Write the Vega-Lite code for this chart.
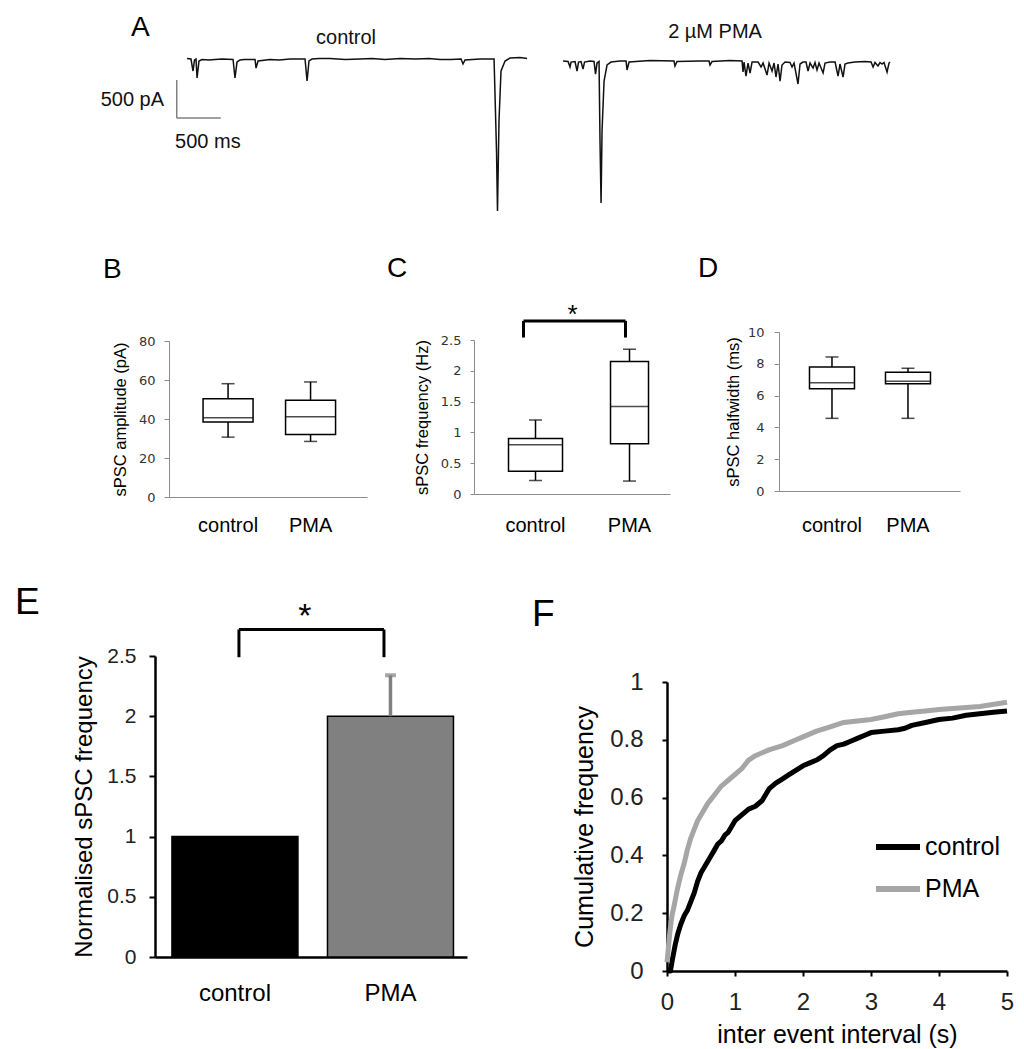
{
  "$schema": "https://vega.github.io/schema/vega-lite/v6.json",
  "padding": {"left": 15, "top": 13, "right": 5, "bottom": 5},
  "background": "white",
  "config": {
    "view": {"stroke": null},
    "font": "Liberation Sans",
    "axis": {"grid": false, "labelFont": "Liberation Sans", "titleFont": "Liberation Sans", "titleFontWeight": "normal", "labelFlush": false, "labelOverlap": false},
    "title": {"font": "Liberation Sans", "fontWeight": "normal", "anchor": "start", "frame": "group", "color": "#000", "baseline": "alphabetic"}
  },
  "datasets": {
    "trace": [
      {"trace": "control", "time": 0, "current": -7},
      {"trace": "control", "time": 45, "current": -13},
      {"trace": "control", "time": 68, "current": -171},
      {"trace": "control", "time": 85, "current": -26},
      {"trace": "control", "time": 102, "current": -13},
      {"trace": "control", "time": 114, "current": -263},
      {"trace": "control", "time": 136, "current": -39},
      {"trace": "control", "time": 170, "current": -20},
      {"trace": "control", "time": 250, "current": -26},
      {"trace": "control", "time": 318, "current": -20},
      {"trace": "control", "time": 400, "current": -13},
      {"trace": "control", "time": 523, "current": -20},
      {"trace": "control", "time": 545, "current": -263},
      {"trace": "control", "time": 568, "current": -53},
      {"trace": "control", "time": 602, "current": -26},
      {"trace": "control", "time": 650, "current": -20},
      {"trace": "control", "time": 773, "current": -20},
      {"trace": "control", "time": 784, "current": -132},
      {"trace": "control", "time": 807, "current": -39},
      {"trace": "control", "time": 943, "current": -20},
      {"trace": "control", "time": 1050, "current": -26},
      {"trace": "control", "time": 1170, "current": -13},
      {"trace": "control", "time": 1341, "current": -13},
      {"trace": "control", "time": 1364, "current": -303},
      {"trace": "control", "time": 1386, "current": -39},
      {"trace": "control", "time": 1420, "current": -13},
      {"trace": "control", "time": 1500, "current": -7},
      {"trace": "control", "time": 1625, "current": -7},
      {"trace": "control", "time": 1800, "current": -20},
      {"trace": "control", "time": 1966, "current": -13},
      {"trace": "control", "time": 2100, "current": -7},
      {"trace": "control", "time": 2250, "current": -20},
      {"trace": "control", "time": 2421, "current": -7},
      {"trace": "control", "time": 2600, "current": -13},
      {"trace": "control", "time": 2750, "current": -7},
      {"trace": "control", "time": 2875, "current": -20},
      {"trace": "control", "time": 3000, "current": -20},
      {"trace": "control", "time": 3114, "current": -13},
      {"trace": "control", "time": 3136, "current": -79},
      {"trace": "control", "time": 3159, "current": -26},
      {"trace": "control", "time": 3330, "current": -13},
      {"trace": "control", "time": 3489, "current": -13},
      {"trace": "control", "time": 3517, "current": -1224},
      {"trace": "control", "time": 3528, "current": -2013},
      {"trace": "control", "time": 3545, "current": -829},
      {"trace": "control", "time": 3568, "current": -171},
      {"trace": "control", "time": 3614, "current": -39},
      {"trace": "control", "time": 3670, "current": 0},
      {"trace": "control", "time": 3784, "current": 7},
      {"trace": "control", "time": 3864, "current": -7},
      {"trace": "PMA", "time": 4273, "current": -39},
      {"trace": "PMA", "time": 4330, "current": -46},
      {"trace": "PMA", "time": 4352, "current": -118},
      {"trace": "PMA", "time": 4364, "current": -53},
      {"trace": "PMA", "time": 4409, "current": -46},
      {"trace": "PMA", "time": 4432, "current": -171},
      {"trace": "PMA", "time": 4449, "current": -53},
      {"trace": "PMA", "time": 4477, "current": -46},
      {"trace": "PMA", "time": 4500, "current": -145},
      {"trace": "PMA", "time": 4517, "current": -53},
      {"trace": "PMA", "time": 4580, "current": -39},
      {"trace": "PMA", "time": 4625, "current": -46},
      {"trace": "PMA", "time": 4642, "current": -211},
      {"trace": "PMA", "time": 4659, "current": -66},
      {"trace": "PMA", "time": 4682, "current": -46},
      {"trace": "PMA", "time": 4693, "current": -1092},
      {"trace": "PMA", "time": 4705, "current": -1908},
      {"trace": "PMA", "time": 4716, "current": -961},
      {"trace": "PMA", "time": 4739, "current": -303},
      {"trace": "PMA", "time": 4773, "current": -92},
      {"trace": "PMA", "time": 4818, "current": -53},
      {"trace": "PMA", "time": 4920, "current": -39},
      {"trace": "PMA", "time": 4989, "current": -39},
      {"trace": "PMA", "time": 5000, "current": -158},
      {"trace": "PMA", "time": 5023, "current": -53},
      {"trace": "PMA", "time": 5261, "current": -33},
      {"trace": "PMA", "time": 5534, "current": -39},
      {"trace": "PMA", "time": 5545, "current": -105},
      {"trace": "PMA", "time": 5568, "current": -46},
      {"trace": "PMA", "time": 5830, "current": -39},
      {"trace": "PMA", "time": 5932, "current": -39},
      {"trace": "PMA", "time": 5943, "current": -92},
      {"trace": "PMA", "time": 5966, "current": -46},
      {"trace": "PMA", "time": 6171, "current": -33},
      {"trace": "PMA", "time": 6307, "current": -39},
      {"trace": "PMA", "time": 6318, "current": -184},
      {"trace": "PMA", "time": 6330, "current": -53},
      {"trace": "PMA", "time": 6352, "current": -237},
      {"trace": "PMA", "time": 6375, "current": -66},
      {"trace": "PMA", "time": 6398, "current": -197},
      {"trace": "PMA", "time": 6421, "current": -53},
      {"trace": "PMA", "time": 6489, "current": -53},
      {"trace": "PMA", "time": 6523, "current": -118},
      {"trace": "PMA", "time": 6546, "current": -66},
      {"trace": "PMA", "time": 6591, "current": -224},
      {"trace": "PMA", "time": 6614, "current": -66},
      {"trace": "PMA", "time": 6648, "current": -171},
      {"trace": "PMA", "time": 6671, "current": -66},
      {"trace": "PMA", "time": 6693, "current": -250},
      {"trace": "PMA", "time": 6716, "current": -79},
      {"trace": "PMA", "time": 6739, "current": -303},
      {"trace": "PMA", "time": 6761, "current": -92},
      {"trace": "PMA", "time": 6796, "current": -53},
      {"trace": "PMA", "time": 6852, "current": -59},
      {"trace": "PMA", "time": 6875, "current": -118},
      {"trace": "PMA", "time": 6898, "current": -66},
      {"trace": "PMA", "time": 6943, "current": -342},
      {"trace": "PMA", "time": 6966, "current": -79},
      {"trace": "PMA", "time": 7000, "current": -53},
      {"trace": "PMA", "time": 7034, "current": -53},
      {"trace": "PMA", "time": 7057, "current": -171},
      {"trace": "PMA", "time": 7080, "current": -66},
      {"trace": "PMA", "time": 7114, "current": -132},
      {"trace": "PMA", "time": 7136, "current": -59},
      {"trace": "PMA", "time": 7159, "current": -158},
      {"trace": "PMA", "time": 7182, "current": -66},
      {"trace": "PMA", "time": 7228, "current": -197},
      {"trace": "PMA", "time": 7250, "current": -66},
      {"trace": "PMA", "time": 7307, "current": -53},
      {"trace": "PMA", "time": 7364, "current": -53},
      {"trace": "PMA", "time": 7398, "current": -237},
      {"trace": "PMA", "time": 7420, "current": -79},
      {"trace": "PMA", "time": 7455, "current": -250},
      {"trace": "PMA", "time": 7477, "current": -79},
      {"trace": "PMA", "time": 7511, "current": -66},
      {"trace": "PMA", "time": 7591, "current": -53},
      {"trace": "PMA", "time": 7705, "current": -46},
      {"trace": "PMA", "time": 7773, "current": -53},
      {"trace": "PMA", "time": 7796, "current": -118},
      {"trace": "PMA", "time": 7818, "current": -59},
      {"trace": "PMA", "time": 7852, "current": -105},
      {"trace": "PMA", "time": 7875, "current": -59},
      {"trace": "PMA", "time": 7898, "current": -79},
      {"trace": "PMA", "time": 7920, "current": -59},
      {"trace": "PMA", "time": 7955, "current": -184},
      {"trace": "PMA", "time": 7977, "current": -66},
      {"trace": "PMA", "time": 7989, "current": -53}
    ],
    "boxB": [
      {"group": "control", "lo": 30.7, "q1": 38.5, "med": 40.6, "q3": 50.4, "hi": 58.1},
      {"group": "PMA", "lo": 28.5, "q1": 32.1, "med": 41.2, "q3": 49.6, "hi": 59}
    ],
    "boxC": [
      {"group": "control", "lo": 0.22, "q1": 0.37, "med": 0.8, "q3": 0.9, "hi": 1.2},
      {"group": "PMA", "lo": 0.21, "q1": 0.815, "med": 1.42, "q3": 2.15, "hi": 2.35}
    ],
    "sigC": [
      {"left": "control", "right": "PMA", "top": 2.81, "bottom": 2.54, "star": 2.78, "label": "*"}
    ],
    "boxD": [
      {"group": "control", "lo": 4.57, "q1": 6.43, "med": 6.81, "q3": 7.8, "hi": 8.43},
      {"group": "PMA", "lo": 4.57, "q1": 6.75, "med": 6.9, "q3": 7.47, "hi": 7.72}
    ],
    "eBar": [
      {"group": "control", "mean": 1.0, "upper": null},
      {"group": "PMA", "mean": 2.0, "upper": 2.34}
    ],
    "sigE": [
      {"left": "control", "right": "PMA", "top": 2.72, "bottom": 2.49, "star": 2.74, "label": "*"}
    ],
    "cdf": [
      {"condition": "control", "interval": 0, "cumfreq": 0},
      {"condition": "control", "interval": 0.05, "cumfreq": 0.0},
      {"condition": "control", "interval": 0.08, "cumfreq": 0.04},
      {"condition": "control", "interval": 0.12, "cumfreq": 0.09},
      {"condition": "control", "interval": 0.16, "cumfreq": 0.13},
      {"condition": "control", "interval": 0.2, "cumfreq": 0.16},
      {"condition": "control", "interval": 0.25, "cumfreq": 0.19},
      {"condition": "control", "interval": 0.3, "cumfreq": 0.21},
      {"condition": "control", "interval": 0.35, "cumfreq": 0.24},
      {"condition": "control", "interval": 0.4, "cumfreq": 0.27},
      {"condition": "control", "interval": 0.45, "cumfreq": 0.31},
      {"condition": "control", "interval": 0.5, "cumfreq": 0.34},
      {"condition": "control", "interval": 0.55, "cumfreq": 0.36},
      {"condition": "control", "interval": 0.6, "cumfreq": 0.38},
      {"condition": "control", "interval": 0.65, "cumfreq": 0.4},
      {"condition": "control", "interval": 0.7, "cumfreq": 0.42},
      {"condition": "control", "interval": 0.75, "cumfreq": 0.44},
      {"condition": "control", "interval": 0.8, "cumfreq": 0.45},
      {"condition": "control", "interval": 0.85, "cumfreq": 0.47},
      {"condition": "control", "interval": 0.9, "cumfreq": 0.48},
      {"condition": "control", "interval": 0.95, "cumfreq": 0.5},
      {"condition": "control", "interval": 1.0, "cumfreq": 0.52},
      {"condition": "control", "interval": 1.1, "cumfreq": 0.54},
      {"condition": "control", "interval": 1.2, "cumfreq": 0.56},
      {"condition": "control", "interval": 1.3, "cumfreq": 0.57},
      {"condition": "control", "interval": 1.4, "cumfreq": 0.59},
      {"condition": "control", "interval": 1.5, "cumfreq": 0.63},
      {"condition": "control", "interval": 1.6, "cumfreq": 0.65},
      {"condition": "control", "interval": 1.7, "cumfreq": 0.665},
      {"condition": "control", "interval": 1.8, "cumfreq": 0.68},
      {"condition": "control", "interval": 1.9, "cumfreq": 0.695},
      {"condition": "control", "interval": 2.0, "cumfreq": 0.71},
      {"condition": "control", "interval": 2.1, "cumfreq": 0.72},
      {"condition": "control", "interval": 2.2, "cumfreq": 0.73},
      {"condition": "control", "interval": 2.3, "cumfreq": 0.745},
      {"condition": "control", "interval": 2.4, "cumfreq": 0.765},
      {"condition": "control", "interval": 2.5, "cumfreq": 0.78},
      {"condition": "control", "interval": 2.6, "cumfreq": 0.785},
      {"condition": "control", "interval": 2.7, "cumfreq": 0.795},
      {"condition": "control", "interval": 2.8, "cumfreq": 0.805},
      {"condition": "control", "interval": 2.9, "cumfreq": 0.815},
      {"condition": "control", "interval": 3.0, "cumfreq": 0.825},
      {"condition": "control", "interval": 3.2, "cumfreq": 0.83},
      {"condition": "control", "interval": 3.4, "cumfreq": 0.835},
      {"condition": "control", "interval": 3.5, "cumfreq": 0.84},
      {"condition": "control", "interval": 3.6, "cumfreq": 0.85},
      {"condition": "control", "interval": 3.8, "cumfreq": 0.86},
      {"condition": "control", "interval": 4.0, "cumfreq": 0.87},
      {"condition": "control", "interval": 4.2, "cumfreq": 0.875},
      {"condition": "control", "interval": 4.4, "cumfreq": 0.885},
      {"condition": "control", "interval": 4.6, "cumfreq": 0.89},
      {"condition": "control", "interval": 4.8, "cumfreq": 0.895},
      {"condition": "control", "interval": 5.0, "cumfreq": 0.9},
      {"condition": "PMA", "interval": 0, "cumfreq": 0.03},
      {"condition": "PMA", "interval": 0.02, "cumfreq": 0.08},
      {"condition": "PMA", "interval": 0.04, "cumfreq": 0.13},
      {"condition": "PMA", "interval": 0.06, "cumfreq": 0.17},
      {"condition": "PMA", "interval": 0.08, "cumfreq": 0.2},
      {"condition": "PMA", "interval": 0.1, "cumfreq": 0.22},
      {"condition": "PMA", "interval": 0.15, "cumfreq": 0.28},
      {"condition": "PMA", "interval": 0.2, "cumfreq": 0.33},
      {"condition": "PMA", "interval": 0.25, "cumfreq": 0.37},
      {"condition": "PMA", "interval": 0.3, "cumfreq": 0.42},
      {"condition": "PMA", "interval": 0.35, "cumfreq": 0.46},
      {"condition": "PMA", "interval": 0.4, "cumfreq": 0.49},
      {"condition": "PMA", "interval": 0.45, "cumfreq": 0.52},
      {"condition": "PMA", "interval": 0.5, "cumfreq": 0.54},
      {"condition": "PMA", "interval": 0.6, "cumfreq": 0.58},
      {"condition": "PMA", "interval": 0.7, "cumfreq": 0.61},
      {"condition": "PMA", "interval": 0.8, "cumfreq": 0.64},
      {"condition": "PMA", "interval": 0.9, "cumfreq": 0.66},
      {"condition": "PMA", "interval": 1.0, "cumfreq": 0.68},
      {"condition": "PMA", "interval": 1.1, "cumfreq": 0.7},
      {"condition": "PMA", "interval": 1.2, "cumfreq": 0.73},
      {"condition": "PMA", "interval": 1.3, "cumfreq": 0.745},
      {"condition": "PMA", "interval": 1.4, "cumfreq": 0.755},
      {"condition": "PMA", "interval": 1.5, "cumfreq": 0.765},
      {"condition": "PMA", "interval": 1.7, "cumfreq": 0.78},
      {"condition": "PMA", "interval": 1.9, "cumfreq": 0.8},
      {"condition": "PMA", "interval": 2.0, "cumfreq": 0.81},
      {"condition": "PMA", "interval": 2.2, "cumfreq": 0.83},
      {"condition": "PMA", "interval": 2.4, "cumfreq": 0.845},
      {"condition": "PMA", "interval": 2.6, "cumfreq": 0.86},
      {"condition": "PMA", "interval": 2.8, "cumfreq": 0.865},
      {"condition": "PMA", "interval": 3.0, "cumfreq": 0.87},
      {"condition": "PMA", "interval": 3.2, "cumfreq": 0.88},
      {"condition": "PMA", "interval": 3.4, "cumfreq": 0.89},
      {"condition": "PMA", "interval": 3.6, "cumfreq": 0.895},
      {"condition": "PMA", "interval": 3.8, "cumfreq": 0.9},
      {"condition": "PMA", "interval": 4.0, "cumfreq": 0.905},
      {"condition": "PMA", "interval": 4.3, "cumfreq": 0.91},
      {"condition": "PMA", "interval": 4.6, "cumfreq": 0.915},
      {"condition": "PMA", "interval": 5.0, "cumfreq": 0.93}
    ]
  },
  "bounds": "flush",
  "spacing": 116,
  "vconcat": [
    {
      "width": 745,
      "height": 175,
      "title": {"text": "A", "fontSize": 28, "dx": -24, "offset": -19.5},
      "layer": [
        {
          "data": {"name": "trace"},
          "mark": {"type": "line", "color": "#111", "strokeWidth": 1.5},
          "encoding": {
            "x": {"field": "time", "type": "quantitative", "scale": {"domain": [-364, 8102], "nice": false, "zero": false}, "axis": null},
            "y": {"field": "current", "type": "quantitative", "scale": {"domain": [-2079, 224], "nice": false, "zero": false}, "axis": null},
            "detail": {"field": "trace", "type": "nominal"}
          }
        },
        {
          "data": {"values": [{}]},
          "mark": {"type": "rule", "color": "#808080", "strokeWidth": 1.5},
          "encoding": {"x": {"datum": -117, "type": "quantitative"}, "y": {"datum": -290, "type": "quantitative"}, "y2": {"datum": -790}}
        },
        {
          "data": {"values": [{}]},
          "mark": {"type": "rule", "color": "#808080", "strokeWidth": 1.5},
          "encoding": {"x": {"datum": -117, "type": "quantitative"}, "x2": {"datum": 383}, "y": {"datum": -790, "type": "quantitative"}}
        },
        {
          "data": {"values": [{}]},
          "mark": {"type": "text", "fontSize": 20, "align": "center", "baseline": "middle", "color": "#111"},
          "encoding": {"x": {"datum": 1807, "type": "quantitative"}, "y": {"datum": 263, "type": "quantitative"}, "text": {"value": "control"}}
        },
        {
          "data": {"values": [{}]},
          "mark": {"type": "text", "fontSize": 20, "align": "center", "baseline": "middle", "color": "#111"},
          "encoding": {"x": {"datum": 6000, "type": "quantitative"}, "y": {"datum": 342, "type": "quantitative"}, "text": {"value": "2 µM PMA"}}
        },
        {
          "data": {"values": [{}]},
          "mark": {"type": "text", "fontSize": 20, "align": "right", "baseline": "middle", "color": "#111"},
          "encoding": {"x": {"datum": -261, "type": "quantitative"}, "y": {"datum": -546, "type": "quantitative"}, "text": {"value": "500 pA"}}
        },
        {
          "data": {"values": [{}]},
          "mark": {"type": "text", "fontSize": 20, "align": "left", "baseline": "middle", "color": "#111"},
          "encoding": {"x": {"datum": -136, "type": "quantitative"}, "y": {"datum": -1105, "type": "quantitative"}, "text": {"value": "500 ms"}}
        }
      ]
    },
    {
      "bounds": "flush",
      "spacing": 324,
      "vconcat": [
        {
          "bounds": "flush",
          "spacing": 13,
          "hconcat": [
            {"data": {"values": []}, "mark": "point", "width": 1, "height": 1},
            {
              "bounds": "flush",
              "spacing": 305,
              "hconcat": [
                {
                  "bounds": "flush",
                  "spacing": 8,
                  "vconcat": [
                    {"data": {"values": []}, "mark": "point", "width": 1, "height": 1},
                    {
                      "width": 198,
                      "height": 156,
                      "title": {"text": "B", "fontSize": 28, "dx": -66, "offset": 51},
                      "data": {"name": "boxB"},
                      "encoding": {
                        "x": {"field": "group", "type": "nominal", "sort": null, "scale": {"domain": ["control", "PMA"], "paddingInner": 0.394, "paddingOuter": 0.397, "align": 0.52}, "axis": {"title": null, "labelAngle": 0, "ticks": false, "domainColor": "#8c8c8c", "labelFontSize": 20, "labelColor": "#000", "labelPadding": 18}}
                      },
                      "layer": [
                        {"mark": {"type": "rule", "color": "#000", "strokeWidth": 1.5}, "encoding": {"y": {"field": "lo", "type": "quantitative", "scale": {"domain": [0, 80], "nice": false}, "axis": {"title": "sPSC amplitude (pA)", "values": [0, 20, 40, 60, 80], "tickCount": 20, "format": "~g", "labelOverlap": false, "labelBound": false, "domainColor": "#8c8c8c", "tickColor": "#8c8c8c", "tickSize": 5, "labelFont": "DejaVu Sans", "labelFontSize": 13, "labelColor": "#333", "labelPadding": 9, "titleFontSize": 16.5, "titleColor": "#000", "titlePadding": 10}}, "y2": {"field": "hi"}}},
                        {"mark": {"type": "bar", "fill": "#fff", "stroke": "#000", "strokeWidth": 1.5, "width": 50}, "encoding": {"y": {"field": "q1", "type": "quantitative"}, "y2": {"field": "q3"}}},
                        {"mark": {"type": "tick", "color": "#000", "thickness": 1.5, "size": 50}, "encoding": {"y": {"field": "med", "type": "quantitative"}}},
                        {"mark": {"type": "tick", "color": "#000", "thickness": 1.5, "size": 13}, "encoding": {"y": {"field": "lo", "type": "quantitative"}}},
                        {"mark": {"type": "tick", "color": "#000", "thickness": 1.5, "size": 13}, "encoding": {"y": {"field": "hi", "type": "quantitative"}}}
                      ]
                    }
                  ]
                },
                {
                  "bounds": "flush",
                  "spacing": 7,
                  "vconcat": [
                    {"data": {"values": []}, "mark": "point", "width": 1, "height": 1},
                    {
                      "width": 196,
                      "height": 154,
                      "title": {"text": "C", "fontSize": 28, "dx": -87, "offset": 18.4},
                      "encoding": {
                        "x": {"field": "group", "type": "nominal", "sort": null, "scale": {"domain": ["control", "PMA"], "paddingInner": 0.45, "paddingOuter": 0.2675, "align": 0.709}, "axis": {"title": null, "labelAngle": 0, "ticks": false, "domainColor": "#8c8c8c", "labelFontSize": 20, "labelColor": "#000", "labelPadding": 21}}
                      },
                      "layer": [
                        {"data": {"name": "boxC"}, "mark": {"type": "rule", "color": "#000", "strokeWidth": 1.5}, "encoding": {"y": {"field": "lo", "type": "quantitative", "scale": {"domain": [0, 2.5], "nice": false}, "axis": {"title": "sPSC frequency (Hz)", "values": [0, 0.5, 1, 1.5, 2, 2.5], "tickCount": 20, "format": "~g", "labelOverlap": false, "labelBound": false, "domainColor": "#8c8c8c", "tickColor": "#8c8c8c", "tickSize": 4, "labelFont": "DejaVu Sans", "labelFontSize": 13, "labelColor": "#333", "labelPadding": 9, "titleFontSize": 16.5, "titleColor": "#000", "titlePadding": 10}}, "y2": {"field": "hi"}}},
                        {"data": {"name": "boxC"}, "transform": [{"filter": "datum.group == 'control'"}], "mark": {"type": "bar", "fill": "#fff", "stroke": "#000", "strokeWidth": 1.5, "width": 54}, "encoding": {"y": {"field": "q1", "type": "quantitative"}, "y2": {"field": "q3"}}},
                        {"data": {"name": "boxC"}, "transform": [{"filter": "datum.group == 'PMA'"}], "mark": {"type": "bar", "fill": "#fff", "stroke": "#000", "strokeWidth": 1.5, "width": 38}, "encoding": {"y": {"field": "q1", "type": "quantitative"}, "y2": {"field": "q3"}}},
                        {"data": {"name": "boxC"}, "transform": [{"filter": "datum.group == 'control'"}], "mark": {"type": "tick", "color": "#000", "thickness": 1.5, "size": 54}, "encoding": {"y": {"field": "med", "type": "quantitative"}}},
                        {"data": {"name": "boxC"}, "transform": [{"filter": "datum.group == 'PMA'"}], "mark": {"type": "tick", "color": "#000", "thickness": 1.5, "size": 38}, "encoding": {"y": {"field": "med", "type": "quantitative"}}},
                        {"data": {"name": "boxC"}, "mark": {"type": "tick", "color": "#000", "thickness": 1.5, "size": 13}, "encoding": {"y": {"field": "lo", "type": "quantitative"}}},
                        {"data": {"name": "boxC"}, "mark": {"type": "tick", "color": "#000", "thickness": 1.5, "size": 13}, "encoding": {"y": {"field": "hi", "type": "quantitative"}}},
                        {"data": {"name": "sigC"}, "mark": {"type": "rule", "color": "#000", "strokeWidth": 3, "xOffset": -12, "x2Offset": -4}, "encoding": {"x": {"field": "left", "type": "nominal", "title": null}, "x2": {"field": "right"}, "y": {"field": "top", "type": "quantitative"}}},
                        {"data": {"name": "sigC"}, "mark": {"type": "rule", "color": "#000", "strokeWidth": 3, "xOffset": -12}, "encoding": {"x": {"field": "left", "type": "nominal", "title": null}, "y": {"field": "top", "type": "quantitative"}, "y2": {"field": "bottom"}}},
                        {"data": {"name": "sigC"}, "mark": {"type": "rule", "color": "#000", "strokeWidth": 3, "xOffset": -4}, "encoding": {"x": {"field": "right", "type": "nominal", "title": null}, "y": {"field": "top", "type": "quantitative"}, "y2": {"field": "bottom"}}},
                        {"data": {"name": "sigC"}, "mark": {"type": "text", "fontSize": 26, "baseline": "alphabetic", "align": "center", "dx": 37, "color": "#000"}, "encoding": {"x": {"field": "left", "type": "nominal", "title": null}, "y": {"field": "star", "type": "quantitative"}, "text": {"field": "label"}}}
                      ]
                    }
                  ]
                },
                {
                  "width": 181,
                  "height": 159,
                  "title": {"text": "D", "fontSize": 28, "dx": -81, "offset": 43},
                  "data": {"name": "boxD"},
                  "encoding": {
                    "x": {"field": "group", "type": "nominal", "sort": null, "scale": {"domain": ["control", "PMA"], "paddingInner": 0.41, "paddingOuter": 0.3958, "align": 0.508}, "axis": {"title": null, "labelAngle": 0, "ticks": false, "domainColor": "#8c8c8c", "labelFontSize": 20, "labelColor": "#000", "labelPadding": 24}}
                  },
                  "layer": [
                    {"mark": {"type": "rule", "color": "#000", "strokeWidth": 1.5}, "encoding": {"y": {"field": "lo", "type": "quantitative", "scale": {"domain": [0, 10], "nice": false}, "axis": {"title": "sPSC halfwidth (ms)", "values": [0, 2, 4, 6, 8, 10], "tickCount": 20, "format": "~g", "labelOverlap": false, "labelBound": false, "domainColor": "#8c8c8c", "tickColor": "#8c8c8c", "tickSize": 5, "labelFont": "DejaVu Sans", "labelFontSize": 13, "labelColor": "#333", "labelPadding": 10, "titleFontSize": 16.5, "titleColor": "#000", "titlePadding": 6}}, "y2": {"field": "hi"}}},
                    {"mark": {"type": "bar", "fill": "#fff", "stroke": "#000", "strokeWidth": 1.5, "width": 45}, "encoding": {"y": {"field": "q1", "type": "quantitative"}, "y2": {"field": "q3"}}},
                    {"mark": {"type": "tick", "color": "#000", "thickness": 1.5, "size": 45}, "encoding": {"y": {"field": "med", "type": "quantitative"}}},
                    {"mark": {"type": "tick", "color": "#000", "thickness": 1.5, "size": 13}, "encoding": {"y": {"field": "lo", "type": "quantitative"}}},
                    {"mark": {"type": "tick", "color": "#000", "thickness": 1.5, "size": 13}, "encoding": {"y": {"field": "hi", "type": "quantitative"}}}
                  ]
                }
              ]
            }
          ]
        },
        {
          "bounds": "flush",
          "spacing": 200,
          "hconcat": [
            {
              "width": 312,
              "height": 301,
              "title": {"text": "E", "fontSize": 37, "dx": -140, "offset": -21.7},
              "encoding": {
                "x": {"field": "group", "type": "nominal", "sort": null, "scale": {"domain": ["control", "PMA"], "paddingInner": 0.19, "paddingOuter": 0.098, "align": 0.556}, "axis": {"title": null, "labelAngle": 0, "ticks": false, "domainColor": "#000", "domainWidth": 2.5, "labelFontSize": 24, "labelColor": "#000", "labelPadding": 24}}
              },
              "layer": [
                {"data": {"name": "eBar"}, "transform": [{"filter": "datum.group == 'control'"}], "mark": {"type": "bar", "fill": "#000000", "stroke": "#000", "strokeWidth": 1.5}, "encoding": {"y": {"field": "mean", "type": "quantitative", "scale": {"domain": [0, 2.5], "nice": false}, "axis": {"title": "Normalised sPSC frequency", "values": [0, 0.5, 1, 1.5, 2, 2.5], "tickCount": 20, "format": "~g", "labelOverlap": false, "domainColor": "#000", "domainWidth": 2.5, "tickColor": "#000", "tickWidth": 2, "tickSize": 6, "labelFontSize": 21, "labelColor": "#222", "labelPadding": 13, "titleFontSize": 24, "titleColor": "#000", "titlePadding": 10}}}},
                {"data": {"name": "eBar"}, "transform": [{"filter": "datum.group == 'PMA'"}], "mark": {"type": "bar", "fill": "#808080", "stroke": "#000", "strokeWidth": 1.5}, "encoding": {"y": {"field": "mean", "type": "quantitative"}}},
                {"data": {"name": "eBar"}, "transform": [{"filter": "isValid(datum.upper)"}], "mark": {"type": "rule", "color": "#808080", "strokeWidth": 3.5}, "encoding": {"y": {"field": "mean", "type": "quantitative"}, "y2": {"field": "upper"}}},
                {"data": {"name": "eBar"}, "transform": [{"filter": "isValid(datum.upper)"}], "mark": {"type": "tick", "color": "#808080", "thickness": 4, "size": 11}, "encoding": {"y": {"field": "upper", "type": "quantitative"}}},
                {"data": {"name": "sigE"}, "mark": {"type": "rule", "color": "#000", "strokeWidth": 3, "xOffset": 4, "x2Offset": -6.5}, "encoding": {"x": {"field": "left", "type": "nominal", "title": null}, "x2": {"field": "right"}, "y": {"field": "top", "type": "quantitative"}}},
                {"data": {"name": "sigE"}, "mark": {"type": "rule", "color": "#000", "strokeWidth": 3, "xOffset": 4}, "encoding": {"x": {"field": "left", "type": "nominal", "title": null}, "y": {"field": "top", "type": "quantitative"}, "y2": {"field": "bottom"}}},
                {"data": {"name": "sigE"}, "mark": {"type": "rule", "color": "#000", "strokeWidth": 3, "xOffset": -6.5}, "encoding": {"x": {"field": "right", "type": "nominal", "title": null}, "y": {"field": "top", "type": "quantitative"}, "y2": {"field": "bottom"}}},
                {"data": {"name": "sigE"}, "mark": {"type": "text", "fontSize": 34, "baseline": "alphabetic", "align": "center", "dx": 70, "color": "#000"}, "encoding": {"x": {"field": "left", "type": "nominal", "title": null}, "y": {"field": "star", "type": "quantitative"}, "text": {"field": "label"}}}
              ]
            },
            {
              "bounds": "flush",
              "spacing": 25,
              "resolve": {"scale": {"color": "independent"}, "legend": {"color": "independent"}},
              "vconcat": [
                {"data": {"values": []}, "mark": "point", "width": 1, "height": 1},
                {
                  "width": 340,
                  "height": 289,
                  "title": {"text": "F", "fontSize": 37, "dx": -135, "offset": 36.5},
                  "data": {"name": "cdf"},
                  "mark": {"type": "line", "strokeWidth": 5, "strokeJoin": "round"},
                  "encoding": {
                    "x": {"field": "interval", "type": "quantitative", "scale": {"domain": [0, 5], "nice": false}, "axis": {"title": "inter event interval (s)", "values": [0, 1, 2, 3, 4, 5], "tickCount": 20, "format": "~g", "labelOverlap": false, "domainColor": "#000", "domainWidth": 2.5, "tickColor": "#000", "tickWidth": 2, "tickSize": 5, "labelFontSize": 24, "labelColor": "#222", "labelPadding": 14, "titleFontSize": 25, "titleColor": "#000", "titlePadding": 8}},
                    "y": {"field": "cumfreq", "type": "quantitative", "scale": {"domain": [0, 1], "nice": false}, "axis": {"title": "Cumulative frequency", "values": [0, 0.2, 0.4, 0.6, 0.8, 1], "tickCount": 20, "format": "~g", "labelOverlap": false, "domainColor": "#000", "domainWidth": 2.5, "tickColor": "#000", "tickWidth": 2, "tickSize": 5, "labelFontSize": 24, "labelColor": "#222", "labelPadding": 19, "titleFontSize": 25, "titleColor": "#000", "titlePadding": 12}},
                    "color": {"field": "condition", "type": "nominal", "sort": null, "scale": {"domain": ["control", "PMA"], "range": ["#000000", "#a6a6a6"]}, "legend": {"orient": "none", "legendX": 206, "legendY": 140, "title": null, "symbolType": "stroke", "symbolSize": 1936, "symbolStrokeWidth": 6, "labelFontSize": 25, "labelFont": "Liberation Sans", "labelColor": "#000", "labelOffset": 2, "rowPadding": 4, "padding": 0}}
                  }
                }
              ]
            }
          ]
        }
      ]
    }
  ]
}
